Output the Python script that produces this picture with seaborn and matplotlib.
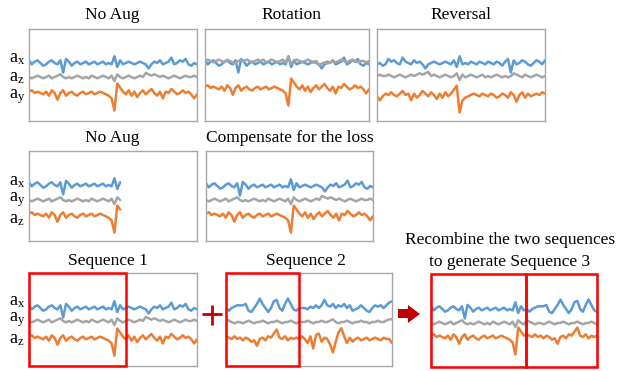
import numpy as np
import pandas as pd
import matplotlib
matplotlib.use('Agg')
import matplotlib.pyplot as plt
import matplotlib.patches as mpatches
import seaborn as sns

# signal shapes (pixel-ish units, positive = up)
seq1_x = [2, -1, 1, 2, 0, -2, -1, 1, 2, 0, -1, 2, -7, 3, 1, -2, 0, 1, -1, 0,
          1, -1, 0, 1, -1, 0, 1, -1, 0, -1, 5, -3, 2, -1, 0, 1, 0, -1, 0, 1,
          0, -1, -4, -1, 1, 0, 2, -1, 0, 1, 4, -1, 0, 2, 1, 3, -1, -2, 0, -1]
seq1_y = [0, -1, 0, 1, 0, -1, 0, 1, -1, 0, 1, 2, 0, -1, 0, -1, 0, 1, 0, -1,
          0, -1, 1, 0, -1, 0, 1, 0, -1, 1, -3, 2, 0, -1, 0, 1, 0, -1, 0, 1,
          0, 3, 2, 1, 2, 1, 0, 1, 0, -1, 0, 1, 0, -1, 0, 1, 0, 0, 1, 0]
seq1_z = [1, 2, 0, 1, 0, -1, 1, -2, 2, 0, -5, 0, 2, -2, 0, 1, -1, -2, 0, 1,
          -1, 0, 1, -1, 0, 1, 0, -1, -2, -4, -13, 7, 4, 1, -1, 2, -2, 1, -3, 0,
          2, -1, 1, 3, 0, -2, 1, -4, 1, 0, 3, 1, -1, 0, 2, 0, 1, -1, -4, -1]

seq2_x = [0, -2, 0, 1, 2, 2, 2, 3, -2, -3, 0, 3, 7, 3, 0, -3, 0, 5, 6, 0,
          -2, 3, 7, 3, -1, -2, 0, 0, 0, -1, 1, 0, 2, 0, 2, 6, 2, 1, 3, 0,
          2, 1, 3, 0, 2, -2, -1, 0, 2, 0, -2, -3, 0, 2, 1, 2, 0, 2, 4, 5]
seq2_y = [2, 1, 0, -1, 0, 0, -1, 0, 1, 0, -1, 0, 0, 1, 0, -1, 0, 0, 1, 0,
          -1, 0, 0, 1, 0, -1, 0, 0, 0, 1, 0, -1, 0, 0, 1, 0, 0, 1, 2, 0,
          -1, 0, 0, 1, 0, -1, 0, 0, 1, 0, 0, -1, 0, 0, 1, 0, 0, 1, 2, 2]
seq2_z = [2, 1, 0, 2, 0, 1, -1, 1, 0, -2, -1, -5, 0, 1, -1, 2, 1, 4, 7, 1,
          0, 2, -1, 1, 0, 1, 0, 2, 0, -3, 2, -7, 3, 4, -2, 1, 0, -4, -10, -2,
          5, 8, 2, -3, 1, -2, 0, 1, -1, 0, 1, -1, 0, 1, 0, -1, 1, 0, 0, -3]

cut1 = 34   # points of sequence 1 kept in sequence 3
cut2 = 26   # points of sequence 2 kept in sequence 3
trunc = 33  # points left in the truncated "No Aug"

BLUE, GRAY, ORANGE = '#5b9bd5', '#a5a5a5', '#ed7d31'
DARKRED = '#c00000'
AMP = 1.35  # pixels per signal unit

sns.set_style('white')
plt.rcParams['font.family'] = ['Liberation Serif', 'DejaVu Serif']
plt.rcParams['mathtext.fontset'] = 'custom'
plt.rcParams['mathtext.rm'] = 'Liberation Serif'
plt.rcParams['mathtext.it'] = 'Liberation Serif'

W, H = 620, 371
fig = plt.figure(figsize=(6.2, 3.71), dpi=100)

# overlay in pixel coordinates for text and symbols
ov = fig.add_axes([0, 0, 1, 1])
ov.set_xlim(0, W)
ov.set_ylim(H, 0)
ov.axis('off')


def panel(box, chans, n=60):
    x0, y0, x1, y1 = box
    ax = fig.add_axes([x0 / W, 1 - y1 / H, (x1 - x0) / W, (y1 - y0) / H])
    for vals, base, col in chans:
        df = pd.DataFrame({'t': np.arange(len(vals)),
                           'v': base - AMP * np.asarray(vals, float)})
        sns.lineplot(data=df, x='t', y='v', ax=ax, color=col, linewidth=1.8)
    ax.set_xlim(0, n - 1)
    ax.set_ylim(y1 - y0, 0)
    ax.set_xticks([])
    ax.set_yticks([])
    ax.set_xlabel('')
    ax.set_ylabel('')
    for s in ax.spines.values():
        s.set_color('#a6a6a6')
        s.set_linewidth(1.0)
    return ax


def red_box(ax, f0, f1):
    ax.add_patch(mpatches.Rectangle((f0, 0), f1 - f0, 1, transform=ax.transAxes,
                                    fill=False, edgecolor='#ff0000', linewidth=1.8,
                                    clip_on=False, zorder=5))


rev = lambda a: list(a)[::-1]

# row 1
panel((29, 29, 197, 121), [(seq1_x, 34, BLUE), (seq1_y, 48, GRAY), (seq1_z, 64, ORANGE)])
panel((205, 29, 369, 121), [(seq1_x, 34, BLUE), ([-v for v in seq1_y], 32, GRAY), (seq1_z, 59, ORANGE)])
panel((377, 29, 545, 121), [(rev(seq1_x), 34, BLUE), (rev(seq1_y), 47, GRAY), (rev(seq1_z), 66, ORANGE)])

# row 2
panel((29, 151, 197, 241), [(seq1_x[:trunc], 34, BLUE), (seq1_y[:trunc], 49, GRAY), (seq1_z[:trunc], 64, ORANGE)])
panel((206, 151, 373, 241), [(seq1_x, 35, BLUE), (seq1_y, 49, GRAY), (seq1_z, 64, ORANGE)])

# row 3
a1 = panel((29, 273, 197, 366), [(seq1_x, 35, BLUE), (seq1_y, 48, GRAY), (seq1_z, 65, ORANGE)])
red_box(a1, 0, cut1 / 59)
a2 = panel((226, 273, 392, 366), [(seq2_x, 35, BLUE), (seq2_y, 49, GRAY), (seq2_z, 66, ORANGE)])
red_box(a2, 0, cut2 / 59)
a3 = panel((431, 274, 597, 367), [(seq1_x[:cut1] + seq2_x[:cut2], 35, BLUE),
                                   (seq1_y[:cut1] + seq2_y[:cut2], 49, GRAY),
                                   (seq1_z[:cut1] + seq2_z[:cut2], 63, ORANGE)])
red_box(a3, 0, (cut1 - 0.4) / 59)
red_box(a3, (cut1 - 0.4) / 59, 1)

# titles
tkw = dict(ha='center', va='center', fontsize=12.5, color='black')
ov.text(112, 15, 'No Aug', **tkw)
ov.text(291, 15, 'Rotation', **tkw)
ov.text(461, 15, 'Reversal', **tkw)
ov.text(112, 138, 'No Aug', **tkw)
ov.text(290, 138, 'Compensate for the loss', **tkw)
ov.text(108, 261, 'Sequence 1', **tkw)
ov.text(306, 261, 'Sequence 2', **tkw)
ov.text(510, 240, 'Recombine the two sequences', **tkw)
ov.text(510, 262, 'to generate Sequence 3', **tkw)

# axis labels
lkw = dict(ha='left', va='center', fontsize=13, color='black')
for y, s in [(58, 'x'), (77, 'z'), (97, 'y'),
             (181, 'x'), (200, 'y'), (219, 'z'),
             (301, 'x'), (320, 'y'), (340, 'z')]:
    ov.text(9, y, r'$\mathrm{a_%s}$' % s, **lkw)

# plus sign and arrow
ov.plot([202, 222], [314, 314], color=DARKRED, linewidth=2.0, solid_capstyle='butt')
ov.plot([212, 212], [305, 325], color=DARKRED, linewidth=2.0, solid_capstyle='butt')
ov.add_patch(mpatches.Polygon([(398, 309), (408, 309), (408, 305), (420, 314),
                               (408, 323), (408, 318), (398, 318)],
                              closed=True, facecolor=DARKRED, edgecolor='none'))

fig.savefig('out.png', dpi=100)
